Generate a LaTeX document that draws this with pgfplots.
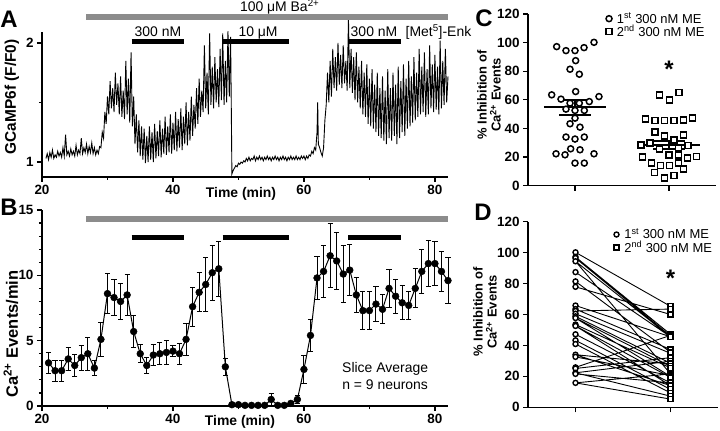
\documentclass[border=0pt]{standalone}
\usepackage{pgfplots}
\usepackage{pgfplotstable}
\pgfplotsset{compat=1.18}
\usepackage{fontspec}
\setmainfont{Liberation Sans}
\definecolor{bagray}{RGB}{140,140,140}

\pgfplotstableread{
t v e
21 3.3 0.8
22 2.7 0.8
23 2.7 0.8
24 3.6 0.85
25 3.1 0.85
26 3.7 0.95
27 4.0 1.25
28 2.9 0.6
29 5.1 1.3
30 8.6 1.55
31 8.3 1.4
32 8.0 1.35
33 8.5 1.55
34 5.7 1.2
35 4.0 0.7
36 3.1 0.65
37 3.9 0.8
38 4.0 0.85
39 4.1 0.9
40 4.2 0.45
41 4.0 0.8
42 5.1 1.2
43 7.6 1.5
44 8.7 1.5
45 9.3 2.1
46 10.2 2.1
47 10.5 2.1
48 3.0 0.65
49 0.1 0.1
50 0.1 0.1
51 0.05 0.05
52 0.05 0.05
53 0.05 0.05
54 0.05 0.05
55 0.5 0.45
56 0.05 0.05
57 0.05 0.05
58 0.2 0.15
59 0.5 0.3
60 2.8 1.05
61 5.4 1.25
62 9.8 1.65
63 10.3 2.0
64 11.5 2.45
65 11.1 2.2
66 10.1 2.15
67 10.4 1.95
68 8.5 1.35
69 7.3 1.45
70 7.3 1.45
71 7.8 1.35
72 7.4 1.1
73 9.0 1.45
74 8.4 1.3
75 7.9 1.3
76 7.7 1.1
77 9.0 1.5
78 10.3 1.7
79 10.9 1.75
80 10.9 1.7
81 10.3 1.5
82 9.6 1.75
}\tabB

\pgfplotsset{
  myaxis/.style={
    scale only axis, anchor=south west, axis lines*=left,
    axis line style={line width=1.3bp, -},
    tick align=outside, tick style={line width=1.2bp, black},
    major tick length=5bp, minor tick length=3bp,
    tick label style={font=\fontsize{13.5}{13.5}\selectfont\bfseries},
    /pgf/number format/assume math mode=true,
  },
  mylegend/.style={
    legend style={draw=none, fill=none, font=\fontsize{13}{13}\selectfont,
      inner sep=0pt, row sep=-1.5bp, nodes={inner sep=1.2bp}},
    legend cell align=left,
    legend image code/.code={\path (-4.5bp,0bp) (6.5bp,0bp); \draw[##1] plot coordinates {(0bp,0bp)};},
  },
}

\begin{document}
\begin{tikzpicture}
\useasboundingbox (0,0) rectangle (720bp,431bp);

% ---------------- Panel A ----------------
\begin{axis}[myaxis, at={(42bp,254bp)}, width=406bp, height=145bp,
  xmin=20, xmax=82, ymin=0.874, ymax=2.092,
  xtick={20,40,60,80}, minor xtick={30,50,70}, ytick={1,2}, minor ytick={1.5},
  clip=false]
\addplot[black, line width=0.9bp] coordinates {
(20.6,1.03)(20.8,1.07)(21.0,1.02)(21.2,1.08)(21.4,1.04)(21.6,1.10)(21.8,1.03)(22.0,1.06)(22.2,1.04)(22.4,1.09)
(22.6,1.05)(22.8,1.08)(23.0,1.04)(23.2,1.12)(23.4,1.05)(23.6,1.23)(23.8,1.06)(24.0,1.09)(24.2,1.05)(24.4,1.11)
(24.6,1.06)(24.8,1.09)(25.0,1.05)(25.2,1.14)(25.4,1.06)(25.6,1.10)(25.8,1.07)(26.0,1.20)(26.2,1.07)(26.4,1.12)
(26.6,1.08)(26.8,1.15)(27.0,1.07)(27.2,1.13)(27.4,1.08)(27.6,1.16)(27.8,1.07)(28.0,1.12)(28.2,1.06)(28.4,1.10)
(28.6,1.07)(28.8,1.13)
(29.0,1.12)(29.2,1.25)(29.4,1.20)(29.6,1.42)(29.8,1.32)(30.0,1.55)(30.2,1.40)(30.4,1.68)(30.6,1.45)(30.8,1.62)
(31.0,1.42)(31.2,1.75)(31.4,1.48)(31.6,1.66)(31.8,1.40)(32.0,1.72)(32.2,1.38)(32.4,1.60)(32.6,1.36)(32.8,1.85)
(33.0,1.40)(33.2,1.70)(33.4,1.33)(33.6,1.92)(33.8,1.30)(34.0,1.55)(34.2,1.15)(34.4,1.40)(34.6,1.08)(34.8,1.35)
(35.0,1.05)(35.2,1.30)(35.4,1.02)(35.6,1.28)(35.8,0.99)(36.0,1.22)(36.2,1.00)(36.4,1.30)(36.6,1.02)(36.8,1.25)
(37.0,1.00)(37.2,1.32)(37.4,1.03)(37.6,1.26)(37.8,1.05)(38.0,1.35)(38.2,1.04)(38.4,1.28)(38.6,1.07)(38.8,1.38)
(39.0,1.06)(39.2,1.30)(39.4,1.08)(39.6,1.40)(39.8,1.07)(40.0,1.33)(40.2,1.10)(40.4,1.42)(40.6,1.09)(40.8,1.36)
(41.0,1.12)(41.2,1.45)(41.4,1.10)(41.6,1.38)(41.8,1.15)(42.0,1.50)(42.2,1.14)(42.4,1.42)(42.6,1.18)(42.8,1.55)
(43.0,1.22)(43.2,1.48)(43.4,1.28)(43.6,1.62)(43.8,1.32)(44.0,1.70)(44.2,1.38)(44.4,1.60)(44.6,1.42)(44.8,1.98)
(45.0,1.45)(45.2,1.75)(45.4,1.40)(45.6,2.08)(45.8,1.48)(46.0,1.80)(46.2,1.45)(46.4,1.88)(46.6,1.50)(46.8,1.78)
(47.0,1.46)(47.2,1.95)(47.4,1.52)(47.6,2.08)(47.8,1.48)(48.0,1.85)(48.2,1.50)(48.4,2.10)(48.6,1.55)(48.8,2.05)
(48.9,1.50)
(49.0,0.90)(49.2,0.93)(49.4,0.95)(49.6,0.97)(49.8,0.96)(50.0,0.99)(50.2,0.98)(50.4,1.00)(50.6,0.99)(50.8,1.01)
(51.0,1.00)(51.2,1.03)(51.4,1.01)(51.6,1.04)(51.8,1.01)(52.0,1.03)(52.2,1.02)(52.4,1.05)(52.6,1.01)(52.8,1.04)
(53.0,1.02)(53.2,1.05)(53.4,1.02)(53.6,1.04)(53.8,1.01)(54.0,1.04)(54.2,1.02)(54.4,1.05)(54.6,1.02)(54.8,1.04)
(55.0,1.01)(55.2,1.04)(55.4,1.02)(55.6,1.05)(55.8,1.02)(56.0,1.04)(56.2,1.01)(56.4,1.04)(56.6,1.02)(56.8,1.05)
(57.0,1.02)(57.2,1.04)(57.4,1.01)(57.6,1.04)(57.8,1.02)(58.0,1.05)(58.2,1.02)(58.4,1.04)(58.6,1.02)(58.8,1.05)
(59.0,1.02)(59.2,1.04)(59.4,1.02)(59.6,1.05)(59.8,1.03)(60.0,1.05)(60.2,1.02)(60.4,1.05)(60.6,1.03)(60.8,1.06)
(61.0,1.05)(61.2,1.09)(61.4,1.07)(61.6,1.12)(61.8,1.10)(62.0,1.25)(62.1,1.50)(62.2,1.15)(62.4,1.12)(62.6,1.08)
(62.8,1.05)
(63.0,1.12)(63.2,1.35)(63.4,1.48)(63.6,1.75)(63.8,1.50)(64.0,1.85)(64.2,1.55)(64.4,1.95)(64.6,1.62)(64.8,1.88)
(65.0,1.60)(65.2,2.00)(65.4,1.65)(65.6,1.90)(65.8,1.62)(66.0,1.98)(66.2,1.66)(66.4,1.85)(66.6,1.60)(66.8,2.20)
(67.0,1.62)(67.2,1.95)(67.4,1.58)(67.6,1.88)(67.8,1.52)(68.0,1.92)(68.2,1.50)(68.4,1.80)(68.6,1.45)(68.8,1.85)
(69.0,1.40)(69.2,1.75)(69.4,1.38)(69.6,1.82)(69.8,1.32)(70.0,1.70)(70.2,1.30)(70.4,1.78)(70.6,1.28)(70.8,1.65)
(71.0,1.25)(71.2,1.75)(71.4,1.22)(71.6,1.62)(71.8,1.20)(72.0,1.72)(72.2,1.18)(72.4,1.60)(72.6,1.15)(72.8,1.78)
(73.0,1.20)(73.2,1.62)(73.4,1.18)(73.6,1.75)(73.8,1.22)(74.0,1.65)(74.2,1.15)(74.4,1.80)(74.6,1.20)(74.8,1.68)
(75.0,1.25)(75.2,1.82)(75.4,1.22)(75.6,1.70)(75.8,1.28)(76.0,1.85)(76.2,1.30)(76.4,1.72)(76.6,1.33)(76.8,1.88)
(77.0,1.35)(77.2,1.75)(77.4,1.38)(77.6,1.95)(77.8,1.40)(78.0,1.80)(78.2,1.42)(78.4,1.92)(78.6,1.38)(78.8,1.78)
(79.0,1.40)(79.2,1.98)(79.4,1.45)(79.6,1.82)(79.8,1.42)(80.0,1.90)(80.2,1.44)(80.4,1.80)(80.6,1.40)(80.8,2.02)
(81.0,1.45)(81.2,1.85)(81.4,1.48)(81.6,1.95)(81.8,1.50)(82.0,1.72)
};
\addplot[bagray, line width=6bp] coordinates {(26.76,2.216) (82,2.216)};
\addplot[black, line width=5bp] coordinates {(33.7,2.011) (41.7,2.011)};
\addplot[black, line width=5bp] coordinates {(47.6,2.011) (57.7,2.011)};
\addplot[black, line width=5bp] coordinates {(66.8,2.011) (74.8,2.011)};
\node[anchor=base, font=\fontsize{14}{14}\selectfont] at (axis cs:37.7,2.05) {300 nM};
\node[anchor=base, font=\fontsize{14}{14}\selectfont] at (axis cs:53.0,2.05) {10 μM};
\node[anchor=base, font=\fontsize{14}{14}\selectfont] at (axis cs:70.7,2.05) {300 nM};
\node[anchor=base west, inner sep=0pt, font=\fontsize{14}{14}\selectfont] at (axis cs:75.5,2.05) {[Met\textsuperscript{5}]-Enk};
\node[anchor=base, font=\fontsize{14}{14}\selectfont] at (axis cs:56.3,2.26) {100 μM Ba\textsuperscript{2+}};
\end{axis}

% ---------------- Panel B ----------------
\begin{axis}[myaxis, at={(42bp,25bp)}, width=406bp, height=196bp,
  xmin=20, xmax=82, ymin=0, ymax=15,
  xtick={20,40,60,80}, minor xtick={30,50,70}, ytick={0,5,10,15},
  minor ytick={1,2,3,4,6,7,8,9,11,12,13,14},
  clip=false]
\addplot[bagray, line width=6bp] coordinates {(26.76,14.31) (82,14.31)};
\addplot[black, line width=5bp] coordinates {(33.7,12.93) (41.7,12.93)};
\addplot[black, line width=5bp] coordinates {(47.6,12.93) (57.7,12.93)};
\addplot[black, line width=5bp] coordinates {(66.8,12.93) (74.8,12.93)};
\addplot[black, line width=1bp, mark=*, mark size=3.4bp,
  mark options={fill=black, draw=black, line width=0.5bp},
  error bars/.cd, y dir=both, y explicit,
  error bar style={line width=1bp, black},
  error mark options={rotate=90, mark size=2.6bp, line width=1bp, black}]
  table[x=t, y=v, y error=e] {\tabB};
\node[align=center, font=\fontsize{14}{16.5}\selectfont] at (axis cs:72.4,2.3) {Slice Average\\n = 9 neurons};
\end{axis}

% ---------------- Panel C ----------------
\begin{axis}[myaxis, mylegend, at={(528bp,245.3bp)}, width=188bp, height=171.7bp,
  xmin=0.5, xmax=2.5, ymin=0, ymax=120,
  xtick={1,2}, xticklabels={}, ytick={0,20,40,60,80,100,120},
  clip=false,
  legend style={at={(0.405,1.015)}, anchor=north west}]
\addplot[only marks, mark=*, mark size=3bp, mark options={fill=white, draw=black, line width=1.5bp}] coordinates {
(0.805,97.2)(0.904,94.4)(1.0,94.4)(1.096,96.5)(1.202,100.2)(1.007,87.4)(0.947,81.4)(1.046,77.9)
(1.007,65.8)(0.752,63.5)(0.851,60.5)(0.947,57.7)(1.046,57.7)(1.152,58.8)(1.255,62.3)
(0.904,53.5)(1.0,52.6)(1.099,52.6)(1.0,47.2)(0.947,43.3)(1.053,40.9)
(0.904,34.0)(1.0,32.6)(1.099,34.0)(0.798,22.3)(0.894,21.6)(0.954,25.8)(1.053,25.1)(1.202,22.3)
(1.0,15.8)(1.099,15.8)};
\addlegendentry{1\textsuperscript{st} 300 nM ME}
\addplot[only marks, mark=square*, mark size=3bp, mark options={fill=white, draw=black, line width=1.5bp}] coordinates {
(1.897,63.5)(2.003,60.0)(2.106,65.3)
(1.748,46.5)(1.851,45.6)(1.95,45.6)(2.053,45.6)(2.152,46.0)(2.252,47.2)
(1.851,37.4)(1.95,34.9)(2.152,35.6)(2.053,32.1)(1.80,29.8)(1.70,28.5)(2.20,28.0)(2.10,26.5)(1.90,25.5)
(1.72,20.0)(2.0,21.6)(2.1,21.6)(2.195,19.3)(2.295,20.5)
(1.816,15.8)(1.91,14.0)(2.003,14.0)(2.1,15.8)
(1.844,9.3)(2.152,11.6)(1.95,5.3)(2.053,7.2)};
\addlegendentry{2\textsuperscript{nd} 300 nM ME}
\addplot[black, line width=2bp, forget plot] coordinates {(0.67,54.7)(1.33,54.7)};
\addplot[black, line width=1.5bp, forget plot] coordinates {(0.83,49.5)(1.17,49.5)};
\addplot[black, line width=1.5bp, forget plot] coordinates {(0.83,59.9)(1.17,59.9)};
\addplot[black, line width=1.5bp, forget plot] coordinates {(1,49.5)(1,59.9)};
\addplot[black, line width=2bp, forget plot] coordinates {(1.67,28.6)(2.33,28.6)};
\addplot[black, line width=1.5bp, forget plot] coordinates {(1.83,25.8)(2.17,25.8)};
\addplot[black, line width=1.5bp, forget plot] coordinates {(1.83,31.4)(2.17,31.4)};
\addplot[black, line width=1.5bp, forget plot] coordinates {(2,25.8)(2,31.4)};
\node[anchor=north, inner sep=0pt, font=\fontsize{24}{24}\selectfont\bfseries] at (axis cs:2,87) {*};
\end{axis}

% ---------------- Panel D ----------------
\begin{axis}[myaxis, mylegend, at={(528bp,23.7bp)}, width=190bp, height=185.6bp,
  xmin=0.5, xmax=2.5, ymin=0, ymax=120,
  xtick={1,2}, xticklabels={}, ytick={0,20,40,60,80,100,120},
  clip=false,
  legend style={at={(0.44,0.97)}, anchor=north west}]
\addplot[black, line width=0.9bp, unbounded coords=jump, forget plot] coordinates {
(1,100.2)(2,65.3)(1.5,nan) (1,97.2)(2,47.2)(1.5,nan) (1,96.5)(2,46.0)(1.5,nan) (1,94.4)(2,45.6)(1.5,nan)
(1,94.4)(2,21.6)(1.5,nan) (1,87.4)(2,45.6)(1.5,nan) (1,81.4)(2,35.6)(1.5,nan) (1,77.9)(2,60.0)(1.5,nan)
(1,65.8)(2,45.6)(1.5,nan) (1,63.5)(2,37.4)(1.5,nan) (1,62.3)(2,63.5)(1.5,nan) (1,60.5)(2,34.9)(1.5,nan)
(1,58.8)(2,28.5)(1.5,nan) (1,57.7)(2,20.0)(1.5,nan) (1,57.7)(2,26.5)(1.5,nan) (1,53.5)(2,25.5)(1.5,nan)
(1,52.6)(2,14.0)(1.5,nan) (1,52.6)(2,19.3)(1.5,nan) (1,47.2)(2,15.8)(1.5,nan) (1,43.3)(2,11.6)(1.5,nan)
(1,40.9)(2,9.3)(1.5,nan) (1,34.0)(2,28.0)(1.5,nan) (1,32.6)(2,20.5)(1.5,nan) (1,34.0)(2,14.0)(1.5,nan)
(1,25.8)(2,46.5)(1.5,nan) (1,25.1)(2,32.1)(1.5,nan) (1,22.3)(2,29.8)(1.5,nan) (1,21.6)(2,15.8)(1.5,nan)
(1,22.3)(2,7.2)(1.5,nan) (1,15.8)(2,21.6)(1.5,nan) (1,15.8)(2,5.3)};
\addplot[only marks, mark=*, mark size=2.5bp, mark options={fill=white, draw=black, line width=1.4bp}] coordinates {
(1,100.2)(1,97.2)(1,96.5)(1,94.4)(1,87.4)(1,81.4)(1,77.9)(1,65.8)(1,63.5)(1,62.3)(1,60.5)(1,58.8)
(1,57.7)(1,53.5)(1,52.6)(1,47.2)(1,43.3)(1,40.9)(1,34.0)(1,32.6)(1,25.8)(1,25.1)(1,22.3)(1,21.6)(1,15.8)};
\addlegendentry{1\textsuperscript{st} 300 nM ME}
\addplot[only marks, mark=square*, mark size=2.6bp, mark options={fill=white, draw=black, line width=1.4bp}] coordinates {
(2,65.3)(2,63.5)(2,60.0)(2,47.2)(2,46.5)(2,46.0)(2,45.6)(2,37.4)(2,35.6)(2,34.9)(2,32.1)(2,29.8)
(2,28.5)(2,28.0)(2,26.5)(2,25.5)(2,21.6)(2,20.5)(2,20.0)(2,19.3)(2,15.8)(2,14.0)(2,11.6)(2,9.3)(2,7.2)(2,5.3)};
\addlegendentry{2\textsuperscript{nd} 300 nM ME}
\node[anchor=north, inner sep=0pt, font=\fontsize{24}{24}\selectfont\bfseries] at (axis cs:2,89) {*};
\end{axis}

% ---------------- Labels outside axes ----------------
\node[rotate=90, font=\fontsize{15.5}{15.5}\selectfont\bfseries] at (12bp,334bp) {GCaMP6f (F/F0)};
\node[rotate=90, font=\fontsize{16.5}{16.5}\selectfont\bfseries] at (11bp,97bp) {Ca\textsuperscript{2+} Events/min};
\node[rotate=90, align=center, font=\fontsize{13}{14}\selectfont\bfseries] at (489bp,336bp) {\% Inhibition of\\Ca\textsuperscript{2+} Events};
\node[rotate=90, align=center, font=\fontsize{13}{14}\selectfont\bfseries] at (485bp,119bp) {\% Inhibition of\\Ca\textsuperscript{2+} Events};
\node[font=\fontsize{14}{14}\selectfont\bfseries] at (241bp,237bp) {Time (min)};
\node[font=\fontsize{14}{14}\selectfont\bfseries] at (240bp,9.5bp) {Time (min)};
\node[font=\fontsize{24}{24}\selectfont\bfseries] at (9bp,412bp) {A};
\node[font=\fontsize{24}{24}\selectfont\bfseries] at (9bp,224bp) {B};
\node[font=\fontsize{24}{24}\selectfont\bfseries] at (484bp,413bp) {C};
\node[font=\fontsize{24}{24}\selectfont\bfseries] at (483bp,219bp) {D};
\end{tikzpicture}
\end{document}
